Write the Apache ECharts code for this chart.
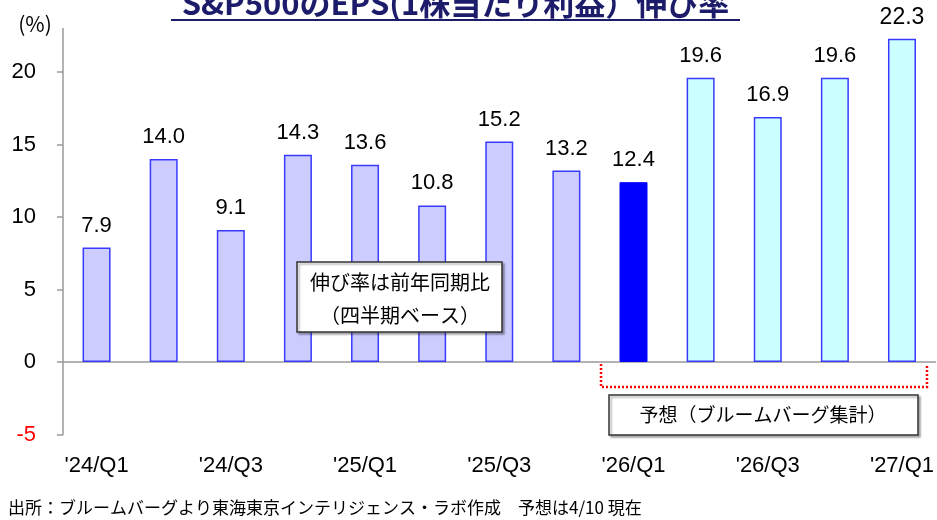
<!DOCTYPE html>
<html>
<head>
<meta charset="utf-8">
<script src="https://cdn.jsdelivr.net/npm/echarts@6/dist/echarts.min.js"></script>
<style>
    html, body { margin: 0; padding: 0; background: #fff; }
    #main { width: 937px; height: 520px; }
</style>
</head>
<body>
<div id="main"></div>
<script>
var myChart = echarts.init(document.getElementById('main'));

// quarters on the x axis
var quarters = ["'24/Q1", "'24/Q2", "'24/Q3", "'24/Q4", "'25/Q1", "'25/Q2", "'25/Q3", "'25/Q4",
    "'26/Q1", "'26/Q2", "'26/Q3", "'26/Q4", "'27/Q1"];
// EPS growth, % y/y
var epsGrowth = [7.9, 14.0, 9.1, 14.3, 13.6, 10.8, 15.2, 13.2, 12.4, 19.6, 16.9, 19.6, 22.3];
// actual / latest / forecast
var periodType = ['actual', 'actual', 'actual', 'actual', 'actual', 'actual', 'actual', 'actual',
    'latest', 'forecast', 'forecast', 'forecast', 'forecast'];
var yTicks = [-5, 0, 5, 10, 15, 20];

var narrow = '"Liberation Sans Narrow", "Arial Narrow", "Liberation Sans", sans-serif';
var jp = '"Noto Sans CJK JP", sans-serif';

var barStyles = {
    actual: { color: '#ccccff', borderColor: '#3a3aff', borderWidth: 1.5 },
    latest: { color: '#0000ff', borderColor: '#0000ff', borderWidth: 1 },
    forecast: { color: '#ccffff', borderColor: '#3a3aff', borderWidth: 1.5 }
};

var barData = epsGrowth.map(function (v, i) {
    var item = { value: v, itemStyle: barStyles[periodType[i]] };
    // the last label is drawn in a wider face
    if (i === epsGrowth.length - 1) {
        item.label = { fontFamily: '"Liberation Sans", Arial, sans-serif', fontSize: 23, distance: 9 };
    }
    return item;
});

var option = {
    animation: false,
    grid: { left: 63, right: 0, top: 28.5, bottom: 85.5 },
    xAxis: [
        {
            type: 'category',
            data: quarters,
            axisLine: { onZero: true, lineStyle: { color: '#9a9a9a', width: 1.5 } },
            axisTick: { interval: 0, length: 8, lineStyle: { color: '#9a9a9a', width: 1.5 } },
            axisLabel: { show: false }
        },
        {
            type: 'category',
            data: quarters,
            position: 'bottom',
            axisLine: { show: false, onZero: false },
            axisTick: { show: false },
            axisLabel: {
                interval: 1,
                margin: 20,
                color: '#000',
                fontFamily: narrow,
                fontSize: 22
            }
        }
    ],
    yAxis: {
        type: 'value',
        min: -5,
        max: 23,
        interval: 5,
        splitLine: { show: false },
        axisLine: { show: true, lineStyle: { color: '#9a9a9a', width: 1.5 } },
        axisTick: { show: true, length: 6, customValues: yTicks, lineStyle: { color: '#9a9a9a', width: 1.5 } },
        axisLabel: {
            customValues: yTicks,
            margin: 27,
            fontFamily: narrow,
            fontSize: 22,
            color: function (v) { return v < 0 ? '#ff0000' : '#000'; }
        }
    },
    series: [
        {
            type: 'bar',
            xAxisIndex: 0,
            barWidth: 28,
            data: barData,
            label: {
                show: true,
                position: 'top',
                distance: 11,
                color: '#000',
                fontFamily: narrow,
                fontSize: 22,
                formatter: function (p) { return p.value.toFixed(1); }
            }
        }
    ],
    graphic: [
        // title, cut off at the top edge in the source
        {
            type: 'text', x: 455.5, y: 3, z: 10,
            style: {
                text: 'S&P500のEPS(1株当たり利益）伸び率',
                font: 'bold 31px ' + jp,
                fill: '#1c1c6b',
                textAlign: 'center',
                textVerticalAlign: 'middle'
            }
        },
        {
            type: 'line', z: 10,
            shape: { x1: 171, y1: 20, x2: 740, y2: 20 },
            style: { stroke: '#1c1c6b', lineWidth: 2 }
        },
        {
            type: 'text', x: 35, y: 24,
            style: {
                text: '(%)',
                font: '21px ' + jp,
                fill: '#000',
                textAlign: 'center',
                textVerticalAlign: 'middle'
            }
        },
        // note box
        {
            type: 'rect', z: 10,
            shape: { x: 297, y: 262, width: 205, height: 70 },
            style: {
                fill: '#fff', stroke: '#333', lineWidth: 1.5,
                shadowBlur: 2, shadowOffsetX: 2, shadowOffsetY: 2, shadowColor: 'rgba(0,0,0,0.3)'
            }
        },
        {
            type: 'text', x: 400, y: 282, z: 11,
            style: { text: '伸び率は前年同期比', font: '20px ' + jp, fill: '#000', textAlign: 'center', textVerticalAlign: 'middle' }
        },
        {
            type: 'text', x: 400, y: 315, z: 11,
            style: { text: '（四半期ベース）', font: '20px ' + jp, fill: '#000', textAlign: 'center', textVerticalAlign: 'middle' }
        },
        // forecast bracket
        {
            type: 'polyline', z: 10,
            shape: { points: [[601, 364], [601, 387], [927, 387], [927, 364]] },
            style: { stroke: '#ff0000', lineWidth: 2.5, lineDash: [2, 2], fill: null }
        },
        {
            type: 'rect', z: 10,
            shape: { x: 609, y: 395, width: 309, height: 40 },
            style: {
                fill: '#fff', stroke: '#333', lineWidth: 1.5,
                shadowBlur: 2, shadowOffsetX: 2, shadowOffsetY: 2, shadowColor: 'rgba(0,0,0,0.3)'
            }
        },
        {
            type: 'text', x: 763, y: 415, z: 11,
            style: { text: '予想（ブルームバーグ集計）', font: '19px ' + jp, fill: '#000', textAlign: 'center', textVerticalAlign: 'middle' }
        },
        // source
        {
            type: 'text', x: 8, y: 508,
            style: {
                text: '出所：ブルームバーグより東海東京インテリジェンス・ラボ作成　予想は4/10 現在',
                font: '17px ' + jp,
                fill: '#000',
                textAlign: 'left',
                textVerticalAlign: 'middle'
            }
        }
    ]
};

option && myChart.setOption(option);
</script>
</body>
</html>
